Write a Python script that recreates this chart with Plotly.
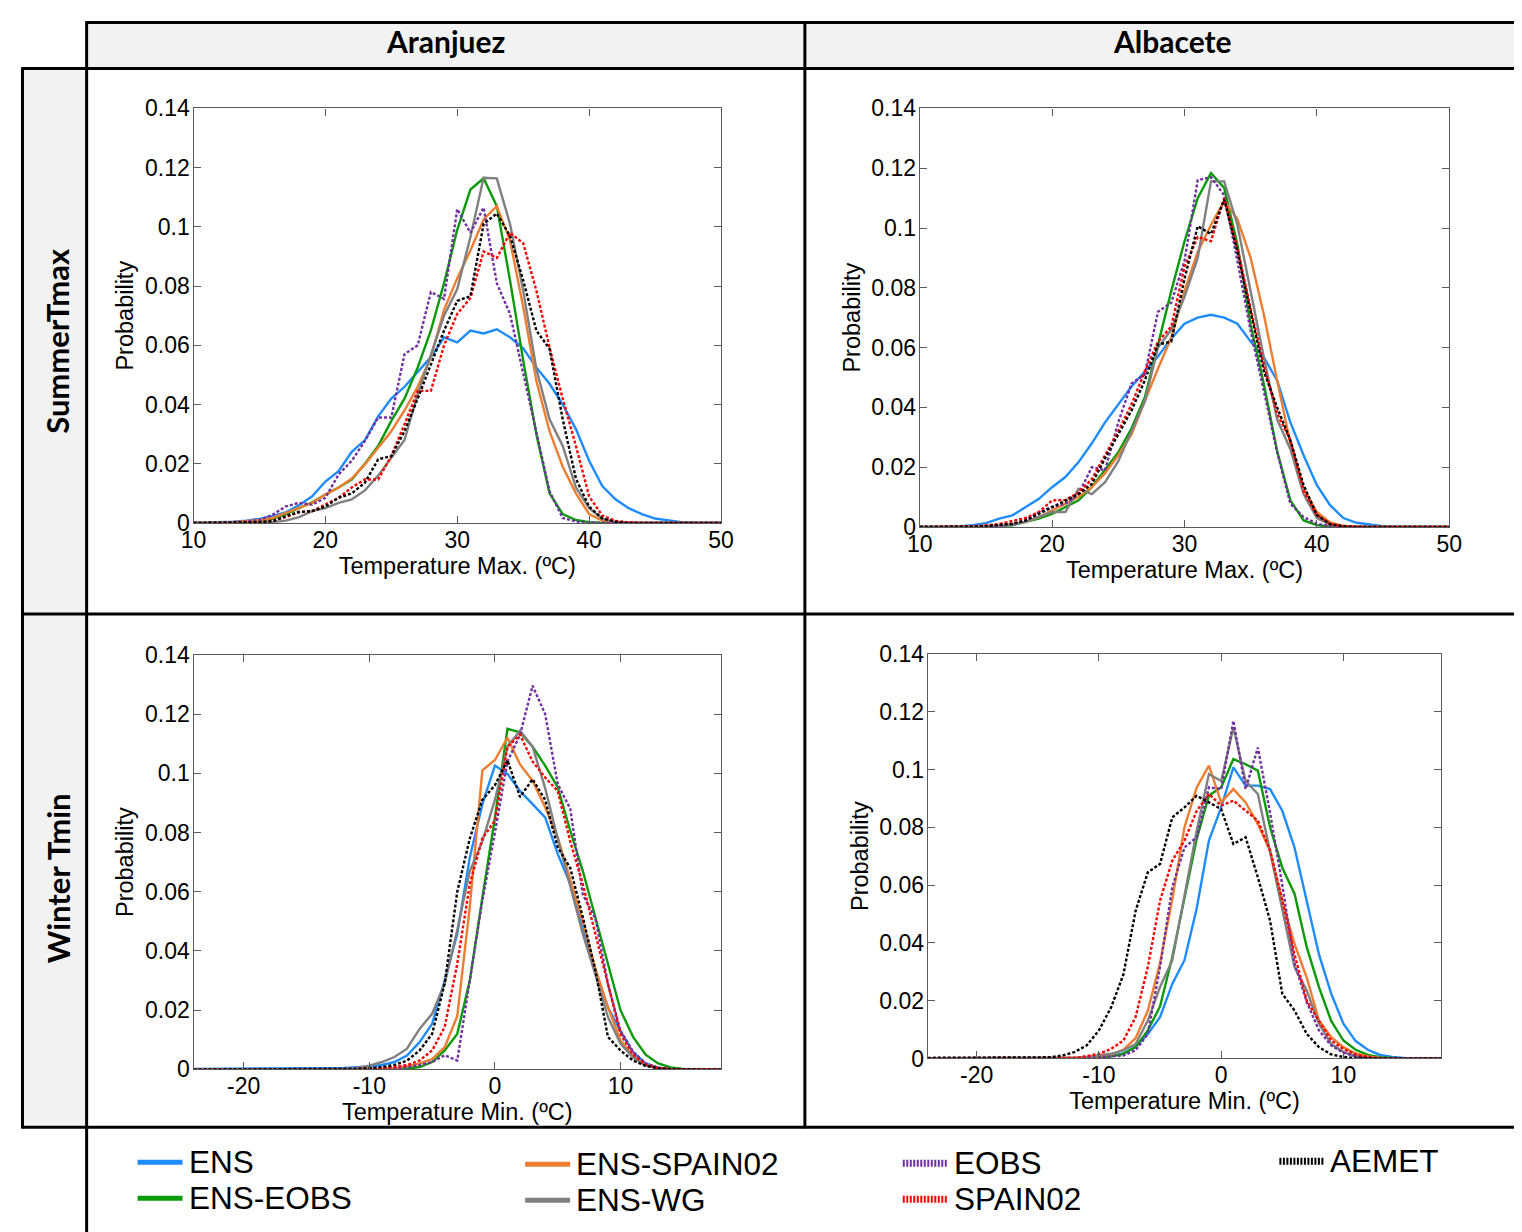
import plotly.graph_objects as go

# ---------------- data ----------------
SUMMER_X = list(range(10, 51))
WINTER_X = list(range(-24, 19))

SUMMER_TICKS = [10, 20, 30, 40, 50]
SUMMER_TICK_TEXT = ["10", "20", "30", "40", "50"]
WINTER_TICKS = [-20, -10, 0, 10]
WINTER_TICK_TEXT = ["-20", "-10", "0", "10"]
PROB_TICKS = [0, 0.02, 0.04, 0.06, 0.08, 0.1, 0.12, 0.14]
PROB_TICK_TEXT = ["0", "0.02", "0.04", "0.06", "0.08", "0.1", "0.12", "0.14"]

SERIES = ["ENS", "ENS-EOBS", "ENS-SPAIN02", "ENS-WG", "EOBS", "SPAIN02", "AEMET"]
COLUMNS = ["Aranjuez", "Albacete"]
ROWS = ["SummerTmax", "Winter Tmin"]

# Aranjuez, summer Tmax (x = 10..50)
ARA_SUM_ENS = [0, 0.0001, 0.0002, 0.0004, 0.0008, 0.0014, 0.0024, 0.0036, 0.006, 0.009,
               0.014, 0.0175, 0.024, 0.028, 0.036, 0.042, 0.046, 0.051, 0.056, 0.0627,
               0.061, 0.065, 0.064, 0.0654, 0.0627, 0.059, 0.0525, 0.047, 0.040, 0.0317,
               0.021, 0.0125, 0.008, 0.005, 0.003, 0.0015, 0.0008, 0.0003, 0.0001, 0,
               0]
ARA_SUM_ENS_EOBS = [0, 0, 0, 0.0002, 0.0004, 0.0008, 0.0015, 0.003, 0.005, 0.007,
                    0.0096, 0.012, 0.0147, 0.02, 0.026, 0.0345, 0.042, 0.0525, 0.065, 0.081,
                    0.099, 0.1126, 0.1164, 0.107, 0.082, 0.055, 0.030, 0.010, 0.003, 0.001,
                    0.0003, 0, 0, 0, 0, 0, 0, 0, 0, 0,
                    0]
ARA_SUM_ENS_SPAIN02 = [0, 0, 0.0001, 0.0003, 0.0006, 0.001, 0.0017, 0.0034, 0.005, 0.0068,
                       0.0096, 0.0119, 0.015, 0.0198, 0.0254, 0.031, 0.038, 0.046, 0.056, 0.072,
                       0.0826, 0.092, 0.1025, 0.107, 0.0955, 0.073, 0.048, 0.031, 0.019, 0.010,
                       0.003, 0.0008, 0.0002, 0, 0, 0, 0, 0, 0, 0,
                       0]
ARA_SUM_ENS_WG = [0, 0, 0, 0, 0, 0.0001, 0.0003, 0.0008, 0.002, 0.004,
                  0.005, 0.0068, 0.008, 0.011, 0.016, 0.022, 0.028, 0.0435, 0.057, 0.070,
                  0.079, 0.0966, 0.1166, 0.1164, 0.101, 0.0785, 0.052, 0.035, 0.026, 0.012,
                  0.005, 0.0015, 0.0004, 0, 0, 0, 0, 0, 0, 0,
                  0]
ARA_SUM_EOBS = [0, 0, 0, 0.0002, 0.0005, 0.001, 0.0028, 0.0056, 0.0068, 0.0062,
                0.0085, 0.0164, 0.021, 0.0277, 0.0356, 0.0356, 0.057, 0.060, 0.078, 0.0757,
                0.106, 0.098, 0.1065, 0.081, 0.0706, 0.051, 0.031, 0.0107, 0.0017, 0.0005,
                0.0001, 0, 0, 0, 0, 0, 0, 0, 0, 0,
                0]
ARA_SUM_SPAIN02 = [0, 0, 0, 0, 0.0001, 0.0003, 0.0008, 0.002, 0.0037, 0.004,
                   0.0062, 0.0085, 0.012, 0.0147, 0.0147, 0.0226, 0.0333, 0.0446, 0.0446, 0.060,
                   0.0706, 0.076, 0.0917, 0.0895, 0.098, 0.0945, 0.0785, 0.0593, 0.042, 0.026,
                   0.009, 0.0025, 0.0007, 0.0002, 0, 0, 0, 0, 0, 0,
                   0]
ARA_SUM_AEMET = [0, 0, 0, 0.0001, 0.0002, 0.0003, 0.0006, 0.0023, 0.0037, 0.004,
                 0.0056, 0.0085, 0.010, 0.0136, 0.0215, 0.0226, 0.031, 0.042, 0.0535, 0.065,
                 0.075, 0.0766, 0.101, 0.1045, 0.097, 0.082, 0.065, 0.0588, 0.035, 0.015,
                 0.0055, 0.0015, 0.0004, 0, 0, 0, 0, 0, 0, 0,
                 0]

# Albacete, summer Tmax (x = 10..50)
ALB_SUM_ENS = [0, 0, 0.0001, 0.0003, 0.0006, 0.0013, 0.0028, 0.0039, 0.0067, 0.0094,
               0.0133, 0.0167, 0.0217, 0.028, 0.035, 0.041, 0.047, 0.052, 0.057, 0.063,
               0.068, 0.070, 0.071, 0.070, 0.068, 0.062, 0.0567, 0.049, 0.035, 0.024,
               0.014, 0.0073, 0.003, 0.0014, 0.0008, 0.0003, 0.0001, 0, 0, 0,
               0]
ALB_SUM_ENS_EOBS = [0, 0, 0, 0, 0.0001, 0.0002, 0.0004, 0.0006, 0.0017, 0.0028,
                    0.0044, 0.0067, 0.0089, 0.0133, 0.019, 0.025, 0.033, 0.0433, 0.061, 0.0789,
                    0.0955, 0.110, 0.1184, 0.1134, 0.0944, 0.0677, 0.0477, 0.0254, 0.0089, 0.0022,
                    0.0006, 0.0001, 0, 0, 0, 0, 0, 0, 0, 0,
                    0]
ALB_SUM_ENS_SPAIN02 = [0, 0, 0, 0.0001, 0.0002, 0.0004, 0.0005, 0.001, 0.0017, 0.0033,
                       0.0056, 0.0078, 0.010, 0.0133, 0.018, 0.024, 0.031, 0.042, 0.053, 0.0633,
                       0.079, 0.092, 0.101, 0.109, 0.103, 0.090, 0.071, 0.049, 0.028, 0.013,
                       0.005, 0.0015, 0.0004, 0, 0, 0, 0, 0, 0, 0,
                       0]
ALB_SUM_ENS_WG = [0, 0, 0, 0, 0.0001, 0.0002, 0.0004, 0.0008, 0.0017, 0.0033,
                  0.005, 0.005, 0.0128, 0.011, 0.015, 0.022, 0.032, 0.042, 0.060, 0.066,
                  0.077, 0.090, 0.1156, 0.1156, 0.101, 0.079, 0.0566, 0.036, 0.026, 0.011,
                  0.003, 0.0008, 0.0002, 0, 0, 0, 0, 0, 0, 0,
                  0]
ALB_SUM_EOBS = [0, 0, 0, 0, 0.0001, 0.0002, 0.0004, 0.0009, 0.0022, 0.005,
                0.0067, 0.0078, 0.011, 0.020, 0.019, 0.035, 0.048, 0.051, 0.072, 0.075,
                0.089, 0.116, 0.117, 0.111, 0.089, 0.0655, 0.0454, 0.025, 0.0078, 0.0033,
                0.0011, 0.0003, 0, 0, 0, 0, 0, 0, 0, 0,
                0]
ALB_SUM_SPAIN02 = [0, 0, 0, 0, 0.0002, 0.0005, 0.001, 0.002, 0.003, 0.005,
                   0.0089, 0.009, 0.0115, 0.016, 0.024, 0.032, 0.041, 0.052, 0.062, 0.067,
                   0.087, 0.097, 0.0956, 0.110, 0.0933, 0.073, 0.054, 0.038, 0.029, 0.012,
                   0.004, 0.001, 0.0002, 0, 0, 0, 0, 0, 0, 0,
                   0]
ALB_SUM_AEMET = [0, 0, 0, 0, 0.0001, 0.0003, 0.0006, 0.0011, 0.0022, 0.0044,
                 0.0067, 0.0089, 0.011, 0.0144, 0.023, 0.031, 0.039, 0.049, 0.061, 0.062,
                 0.083, 0.1006, 0.098, 0.1095, 0.092, 0.072, 0.052, 0.040, 0.029, 0.014,
                 0.004, 0.001, 0.0002, 0, 0, 0, 0, 0, 0, 0,
                 0]

# Aranjuez, winter Tmin (x = -24..18)
ARA_WIN_ENS = [0.0002, 0.0002, 0.0002, 0.0002, 0.0002, 0.0002, 0.0002, 0.0002, 0.0002, 0.0003,
               0.0003, 0.0004, 0.0005, 0.0007, 0.001, 0.0015, 0.0025, 0.0047, 0.0092, 0.0154,
               0.030, 0.0458, 0.0716, 0.0896, 0.1026, 0.0998, 0.094, 0.0896, 0.0851, 0.0728,
               0.0626, 0.048, 0.0334, 0.021, 0.013, 0.0058, 0.002, 0.0006, 0.0002, 0.0001,
               0, 0, 0]
ARA_WIN_ENS_EOBS = [0, 0, 0, 0, 0, 0, 0, 0, 0, 0,
                    0, 0, 0, 0, 0.0001, 0.0001, 0.0002, 0.0003, 0.0008, 0.0025,
                    0.0064, 0.012, 0.030, 0.058, 0.085, 0.115, 0.1138, 0.109, 0.1026, 0.0953,
                    0.0806, 0.067, 0.0514, 0.036, 0.020, 0.011, 0.005, 0.002, 0.0007, 0.0002,
                    0, 0, 0]
ARA_WIN_ENS_SPAIN02 = [0, 0, 0, 0, 0, 0, 0, 0, 0, 0,
                       0, 0, 0, 0, 0.0001, 0.0002, 0.0004, 0.001, 0.002, 0.0035,
                       0.0075, 0.018, 0.055, 0.101, 0.1045, 0.112, 0.103, 0.0975, 0.0885, 0.0784,
                       0.064, 0.050, 0.034, 0.021, 0.0098, 0.0045, 0.0015, 0.0005, 0.0001, 0,
                       0, 0, 0]
ARA_WIN_ENS_WG = [0, 0, 0, 0, 0, 0, 0, 0, 0, 0,
                  0, 0.0001, 0.0002, 0.0005, 0.0013, 0.0025, 0.0042, 0.007, 0.0137, 0.0188,
                  0.029, 0.047, 0.067, 0.077, 0.091, 0.109, 0.1144, 0.109, 0.095, 0.078,
                  0.0615, 0.0458, 0.032, 0.0177, 0.0087, 0.004, 0.0013, 0.0004, 0.0001, 0,
                  0, 0, 0]
ARA_WIN_EOBS = [0, 0, 0, 0, 0, 0, 0, 0, 0, 0,
                0, 0, 0, 0, 0.0001, 0.0002, 0.0004, 0.0008, 0.0015, 0.0025,
                0.0048, 0.003, 0.030, 0.057, 0.080, 0.104, 0.113, 0.1296, 0.120, 0.0964,
                0.088, 0.059, 0.051, 0.0289, 0.013, 0.006, 0.002, 0.0006, 0.0001, 0,
                0, 0, 0]
ARA_WIN_SPAIN02 = [0, 0, 0, 0, 0, 0, 0, 0, 0, 0,
                   0, 0, 0, 0.0001, 0.0003, 0.0005, 0.0009, 0.0015, 0.003, 0.0064,
                   0.0143, 0.0357, 0.0626, 0.078, 0.084, 0.109, 0.113, 0.104, 0.0986, 0.094,
                   0.077, 0.0626, 0.0458, 0.029, 0.012, 0.005, 0.0017, 0.0005, 0.0001, 0,
                   0, 0, 0]
ARA_WIN_AEMET = [0, 0, 0, 0, 0, 0, 0, 0, 0, 0,
                 0, 0, 0, 0.0002, 0.0004, 0.0008, 0.0015, 0.003, 0.0064, 0.012,
                 0.029, 0.060, 0.078, 0.091, 0.096, 0.1044, 0.092, 0.098, 0.091, 0.075,
                 0.068, 0.0514, 0.0334, 0.011, 0.0064, 0.003, 0.0012, 0.0004, 0.0001, 0,
                 0, 0, 0]

# Albacete, winter Tmin (x = -24..18)
ALB_WIN_ENS = [0.0001, 0.0001, 0.0001, 0.0001, 0.0001, 0.0001, 0.0001, 0.0001, 0.0001, 0.0001,
               0.0001, 0.0001, 0.0001, 0.0002, 0.0004, 0.0008, 0.0017, 0.004, 0.0085, 0.0143,
               0.0258, 0.034, 0.052, 0.0754, 0.0869, 0.1007, 0.0944, 0.0944, 0.0932, 0.0857,
               0.073, 0.0546, 0.036, 0.0224, 0.012, 0.006, 0.003, 0.0012, 0.0005, 0.0002,
               0.0001, 0, 0]
ALB_WIN_ENS_EOBS = [0, 0, 0, 0, 0, 0, 0, 0, 0, 0,
                    0, 0, 0, 0.0001, 0.0003, 0.0007, 0.0016, 0.0039, 0.0097, 0.018,
                    0.035, 0.055, 0.076, 0.091, 0.0938, 0.1036, 0.1018, 0.0996, 0.080, 0.066,
                    0.057, 0.0385, 0.0247, 0.013, 0.0062, 0.003, 0.0012, 0.0004, 0.0001, 0,
                    0, 0, 0]
ALB_WIN_ENS_SPAIN02 = [0.0001, 0.0001, 0.0001, 0.0001, 0.0001, 0.0001, 0.0001, 0.0001, 0.0001, 0.0001,
                       0.0001, 0.0001, 0.0001, 0.0003, 0.0007, 0.0014, 0.003, 0.007, 0.0165, 0.033,
                       0.055, 0.080, 0.0938, 0.1013, 0.0886, 0.0932, 0.0886, 0.0811, 0.0719, 0.0546,
                       0.0396, 0.028, 0.0131, 0.0074, 0.0039, 0.0017, 0.0007, 0.0002, 0, 0,
                       0, 0, 0]
ALB_WIN_ENS_WG = [0.0001, 0.0001, 0.0001, 0.0001, 0.0001, 0.0001, 0.0001, 0.0001, 0.0001, 0.0001,
                  0.0001, 0.0001, 0.0001, 0.0005, 0.001, 0.0016, 0.0028, 0.005, 0.0131, 0.0247,
                  0.0339, 0.057, 0.0788, 0.0984, 0.096, 0.1145, 0.096, 0.0915, 0.0719, 0.0523,
                  0.0316, 0.0235, 0.012, 0.005, 0.0022, 0.0008, 0.0002, 0, 0, 0,
                  0, 0, 0]
ALB_WIN_EOBS = [0.0001, 0.0001, 0.0001, 0.0001, 0.0001, 0.0001, 0.0001, 0.0001, 0.0001, 0.0001,
                0.0001, 0.0001, 0.0001, 0.0002, 0.0004, 0.0007, 0.001, 0.0028, 0.0085, 0.0316,
                0.0592, 0.073, 0.0765, 0.0938, 0.0932, 0.1168, 0.0932, 0.1076, 0.085, 0.060,
                0.033, 0.0195, 0.0097, 0.0045, 0.002, 0.0007, 0.0002, 0, 0, 0,
                0, 0, 0]
ALB_WIN_SPAIN02 = [0.0001, 0.0001, 0.0001, 0.0001, 0.0001, 0.0001, 0.0001, 0.0001, 0.0001, 0.0001,
                   0.0001, 0.0001, 0.0001, 0.0008, 0.0016, 0.0033, 0.0062, 0.0143, 0.0316, 0.0546,
                   0.0684, 0.0754, 0.0857, 0.0915, 0.0875, 0.0892, 0.0857, 0.0823, 0.072, 0.0546,
                   0.036, 0.020, 0.013, 0.0062, 0.0033, 0.0014, 0.0005, 0.0001, 0, 0,
                   0, 0, 0]
ALB_WIN_AEMET = [0.0002, 0.0002, 0.0002, 0.0002, 0.0002, 0.0002, 0.0002, 0.0002, 0.0004, 0.0004,
                 0.0004, 0.001, 0.0022, 0.0045, 0.0097, 0.0177, 0.029, 0.051, 0.0644, 0.0673,
                 0.0834, 0.0869, 0.0909, 0.0886, 0.0863, 0.0742, 0.0765, 0.0627, 0.0477, 0.0224,
                 0.0166, 0.0085, 0.0039, 0.0014, 0.0005, 0.0002, 0, 0, 0, 0,
                 0, 0, 0]

# ---------------- styles ----------------
COLORS = {
    "ENS": "#1E8CFF",
    "ENS-EOBS": "#0A9A0A",
    "ENS-SPAIN02": "#ED7D31",
    "ENS-WG": "#808080",
    "EOBS": "#7030A0",
    "SPAIN02": "#FF0000",
    "AEMET": "#000000",
}
DOTTED = {"EOBS", "SPAIN02", "AEMET"}
FONT = "Liberation Sans, Arial, sans-serif"
HEAD_FONT = "Lato, Carlito, Calibri, sans-serif"
TICK_SIZE = 23
TITLE_SIZE = 23.5

# Layout positions below are given in target-picture pixels and mapped to
# figure pixels (the photographed page is offset ~20px and scaled ~0.98).
SX, SY = 0.984, 0.980
OX, OY = 20.3, 19.5
FW, FH = 1527, 1238


def px_fig_x(p):
    return (p - OX) / SX


def px_fig_y(p):
    return (p - OY) / SY


def fx(p, lo=0.0):
    return max(px_fig_x(p), lo) / FW


def fy(p, lo=0.0):
    return 1 - max(px_fig_y(p), lo) / FH


panels = [
    dict(x=SUMMER_X, data=[ARA_SUM_ENS, ARA_SUM_ENS_EOBS, ARA_SUM_ENS_SPAIN02, ARA_SUM_ENS_WG,
                           ARA_SUM_EOBS, ARA_SUM_SPAIN02, ARA_SUM_AEMET],
         box=(193, 721, 107, 522), xr=[10, 50], tv=SUMMER_TICKS, tt=SUMMER_TICK_TEXT,
         xtitle="Temperature Max. (ºC)"),
    dict(x=SUMMER_X, data=[ALB_SUM_ENS, ALB_SUM_ENS_EOBS, ALB_SUM_ENS_SPAIN02, ALB_SUM_ENS_WG,
                           ALB_SUM_EOBS, ALB_SUM_SPAIN02, ALB_SUM_AEMET],
         box=(920, 1450, 107, 526), xr=[10, 50], tv=SUMMER_TICKS, tt=SUMMER_TICK_TEXT,
         xtitle="Temperature Max. (ºC)"),
    dict(x=WINTER_X, data=[ARA_WIN_ENS, ARA_WIN_ENS_EOBS, ARA_WIN_ENS_SPAIN02, ARA_WIN_ENS_WG,
                           ARA_WIN_EOBS, ARA_WIN_SPAIN02, ARA_WIN_AEMET],
         box=(193, 721, 654, 1069), xr=[-24, 18], tv=WINTER_TICKS, tt=WINTER_TICK_TEXT,
         xtitle="Temperature Min. (ºC)"),
    dict(x=WINTER_X, data=[ALB_WIN_ENS, ALB_WIN_ENS_EOBS, ALB_WIN_ENS_SPAIN02, ALB_WIN_ENS_WG,
                           ALB_WIN_EOBS, ALB_WIN_SPAIN02, ALB_WIN_AEMET],
         box=(928, 1442, 653, 1058), xr=[-24, 18], tv=WINTER_TICKS, tt=WINTER_TICK_TEXT,
         xtitle="Temperature Min. (ºC)"),
]

fig = go.Figure()
layout_axes = {}
for i, p in enumerate(panels):
    n = "" if i == 0 else str(i + 1)
    for name, ys in zip(SERIES, p["data"]):
        assert len(ys) == len(p["x"]), (name, i, len(ys))
        fig.add_trace(go.Scatter(
            x=p["x"], y=ys, mode="lines", name=name, showlegend=False,
            xaxis="x" + n, yaxis="y" + n,
            line=dict(color=COLORS[name], width=2.4,
                      dash="3px,2px" if name in DOTTED else "solid"),
        ))
    x0, x1, y0, y1 = p["box"]
    common = dict(showline=True, linecolor="#5a5a5a", linewidth=1.2, mirror="allticks",
                  ticks="inside", ticklen=7, tickcolor="#5a5a5a", tickwidth=1,
                  showgrid=False, zeroline=False,
                  tickfont=dict(family=FONT, size=TICK_SIZE, color="black"))
    layout_axes["xaxis" + n] = dict(
        domain=[fx(x0), fx(x1)], range=p["xr"], anchor="y" + n,
        tickmode="array", tickvals=p["tv"], ticktext=p["tt"], ticklabelstandoff=-4,
        title=dict(text=p["xtitle"], standoff=0,
                   font=dict(family=FONT, size=TITLE_SIZE, color="black")),
        **common)
    layout_axes["yaxis" + n] = dict(
        domain=[fy(y1), fy(y0)], range=[0, 0.14], anchor="x" + n,
        tickmode="array", tickvals=PROB_TICKS, ticktext=PROB_TICK_TEXT, ticklabelstandoff=-2,
        title=dict(text="Probability", standoff=4,
                   font=dict(family=FONT, size=TITLE_SIZE, color="black")),
        **common)

shapes = []
GRAY = "#F2F2F2"
shapes.append(dict(type="rect", xref="paper", yref="paper", layer="below",
                   x0=fx(86), x1=fx(1530), y0=fy(67), y1=fy(11), fillcolor=GRAY, line=dict(width=0)))
shapes.append(dict(type="rect", xref="paper", yref="paper", layer="below",
                   x0=fx(10), x1=fx(86), y0=fy(1127), y1=fy(67), fillcolor=GRAY, line=dict(width=0)))


def hline(y, xa, xb, w=3):
    shapes.append(dict(type="line", xref="paper", yref="paper", x0=fx(xa, 0.5), x1=fx(xb),
                       y0=fy(y, 1.5), y1=fy(y, 1.5), line=dict(color="black", width=w)))


def vline(x, ya, yb, w=3):
    shapes.append(dict(type="line", xref="paper", yref="paper", x0=fx(x, 1.5), x1=fx(x, 1.5),
                       y0=fy(ya, 0.5), y1=fy(yb), line=dict(color="black", width=w)))


hline(11, 85, 1540)
hline(67, 9, 1540)
hline(613, 9, 1540)
hline(1127, 9, 1540)
vline(86, 10, 1250)
vline(805, 10, 1128)
vline(10, 66, 1128)

annotations = []
for name, cx in zip(COLUMNS, [445, 1173]):
    annotations.append(dict(text="<b>%s</b>" % name, x=fx(cx), y=fy(40), xref="paper", yref="paper",
                            showarrow=False, xanchor="center", yanchor="middle",
                            font=dict(family=HEAD_FONT, size=30, color="black")))
for name, cy in zip(ROWS, [340, 878]):
    annotations.append(dict(text="<b>%s</b>" % name, x=fx(57), y=fy(cy), xref="paper", yref="paper",
                            showarrow=False, xanchor="center", yanchor="middle", textangle=-90,
                            font=dict(family=HEAD_FONT, size=31, color="black")))

# legend (swatch + label), laid out like the reference
LEGEND_POS = {
    "ENS": (137, 1162), "ENS-EOBS": (137, 1198),
    "ENS-SPAIN02": (525, 1164), "ENS-WG": (525, 1200),
    "EOBS": (903, 1163), "SPAIN02": (903, 1199),
    "AEMET": (1280, 1161),
}
for name in SERIES:
    lx, ly = LEGEND_POS[name]
    if name in DOTTED:
        ln = dict(color=COLORS[name], width=7, dash="2px,1.5px")
    else:
        ln = dict(color=COLORS[name], width=5)
    shapes.append(dict(type="line", xref="paper", yref="paper", x0=fx(lx), x1=fx(lx + 45),
                       y0=fy(ly), y1=fy(ly), line=ln))
    annotations.append(dict(text=name, x=fx(lx + 49), y=fy(ly), xref="paper", yref="paper",
                            showarrow=False, xanchor="left", yanchor="middle",
                            font=dict(family=FONT, size=31.5, color="black")))

fig.update_layout(
    width=FW, height=FH, margin=dict(l=0, r=0, t=0, b=0),
    paper_bgcolor="white", plot_bgcolor="white", showlegend=False,
    font=dict(family=FONT, size=TICK_SIZE, color="black"),
    shapes=shapes, annotations=annotations,
    **layout_axes,
)

fig.write_html("out.html")
